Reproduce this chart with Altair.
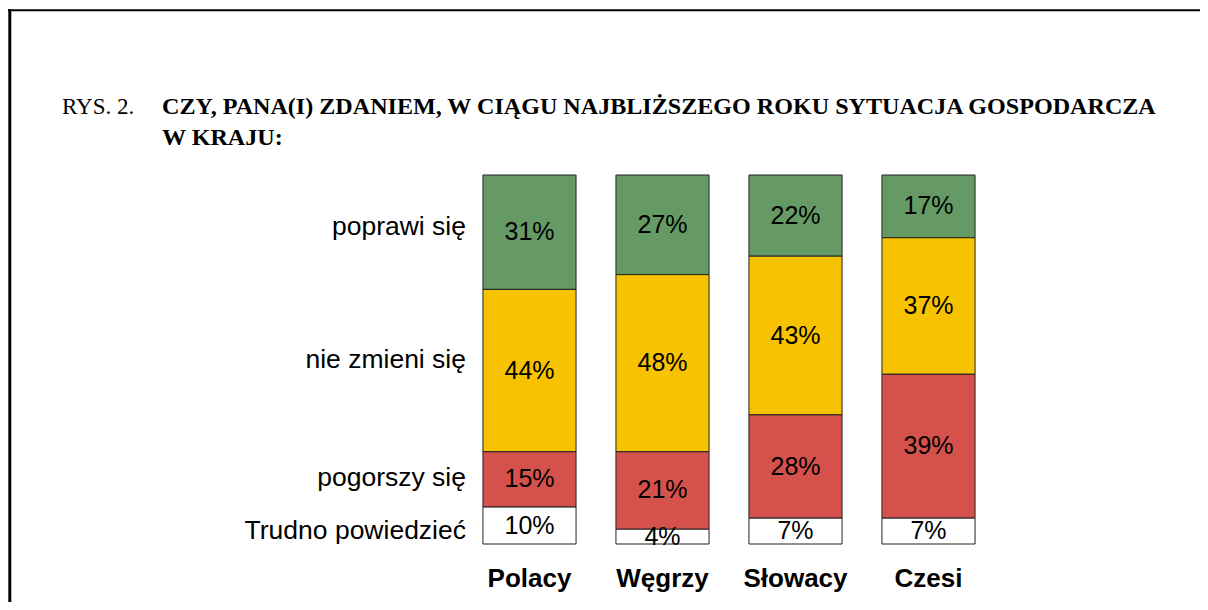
import altair as alt
import pandas as pd

kraje = ["Polacy", "Węgrzy", "Słowacy", "Czesi"]
odpowiedzi = ["poprawi się", "nie zmieni się", "pogorszy się", "Trudno powiedzieć"]
poprawi = [31, 27, 22, 17]
nie_zmieni = [44, 48, 43, 37]
pogorszy = [15, 21, 28, 39]
trudno = [10, 4, 7, 7]

tytul_nr = "RYS. 2."
tytul_1 = "CZY, PANA(I) ZDANIEM, W CIĄGU NAJBLIŻSZEGO ROKU SYTUACJA GOSPODARCZA"
tytul_2 = "W KRAJU:"

kolory = ["#659A64", "#F7C300", "#D4524B", "#FFFFFF"]

serie = [poprawi, nie_zmieni, pogorszy, trudno]
rows = []
for oi, (odp, vals) in enumerate(zip(odpowiedzi, serie)):
    for k, v in zip(kraje, vals):
        rows.append({"kraj": k, "odp": odp, "val": v, "ord": 3 - oi,
                     "lab": f"{v}%"})
df = pd.DataFrame(rows)

W, H = 532, 369
PL, PT = 455, 167

xscale = alt.Scale(domain=kraje, paddingInner=0.3, paddingOuter=0.15)
yscale = alt.Scale(domain=[0, 100])
cscale = alt.Scale(domain=odpowiedzi, range=kolory)

base = alt.Chart(df).transform_stack(
    stack="val", groupby=["kraj"], as_=["y0", "y1"],
    sort=[alt.SortField("ord", order="ascending")]
).transform_calculate(mid="(datum.y0 + datum.y1) / 2")

bars = base.mark_bar(stroke="#222222", strokeWidth=1).encode(
    x=alt.X("kraj:N", scale=xscale, axis=None, sort=kraje),
    y=alt.Y("y0:Q", scale=yscale, axis=None),
    y2="y1:Q",
    color=alt.Color("odp:N", scale=cscale, legend=None),
)

pct = base.mark_text(font="Liberation Sans", fontSize=25, color="#000000",
                     baseline="middle").encode(
    x=alt.X("kraj:N", scale=xscale, axis=None, sort=kraje),
    y=alt.Y("mid:Q", scale=yscale, axis=None),
    text="lab:N",
)

label_dy = {"poprawi się": -5, "nie zmieni się": -11,
            "pogorszy się": -1, "Trudno powiedzieć": 5}
left_layers = []
for odp in odpowiedzi:
    left_layers.append(
        base.transform_filter(
            (alt.datum.kraj == kraje[0]) & (alt.datum.odp == odp)
        ).mark_text(font="Liberation Sans", fontSize=26.5, color="#000000",
                    align="right", baseline="middle", dy=label_dy[odp]).encode(
            x=alt.value(3),
            y=alt.Y("mid:Q", scale=yscale, axis=None),
            text="odp:N",
        )
    )

cats = alt.Chart(pd.DataFrame({"kraj": kraje})).mark_text(
    font="Liberation Sans", fontSize=26, fontWeight="bold", color="#000000",
    baseline="alphabetic").encode(
    x=alt.X("kraj:N", scale=xscale, axis=None, sort=kraje),
    y=alt.value(H + 43),
    text="kraj:N",
)

one = pd.DataFrame({"t": [tytul_nr], "a": [tytul_1], "b": [tytul_2]})
t0 = alt.Chart(one).mark_text(font="Liberation Serif", fontSize=23,
                              align="left", baseline="alphabetic",
                              color="#000000").encode(
    x=alt.value(62 - 8 - PL), y=alt.value(114 - 8 - PT), text="t:N")
t1 = alt.Chart(one).mark_text(font="Liberation Serif", fontSize=24.1,
                              fontWeight="bold", align="left",
                              baseline="alphabetic", color="#000000").encode(
    x=alt.value(162 - 8 - PL), y=alt.value(114 - 8 - PT), text="a:N")
t2 = alt.Chart(one).mark_text(font="Liberation Serif", fontSize=24.1,
                              fontWeight="bold", align="left",
                              baseline="alphabetic", color="#000000").encode(
    x=alt.value(162 - 8 - PL), y=alt.value(145 - 8 - PT), text="b:N")

frame_top = alt.Chart(one).mark_rule(color="#000000", strokeWidth=2).encode(
    x=alt.value(-PL), x2=alt.value(1200 - PL), y=alt.value(10.3 - 8 - PT))
frame_left = alt.Chart(one).mark_rule(color="#000000", strokeWidth=3).encode(
    x=alt.value(9.8 - 8 - PL), y=alt.value(9.3 - 8 - PT),
    y2=alt.value(610 - 8 - PT))

chart = alt.layer(frame_top, frame_left, t0, t1, t2, bars, pct, *left_layers,
                  cats).properties(
    width=W, height=H,
    autosize=alt.AutoSizeParams(type="none"),
    padding={"left": PL, "top": PT, "right": 1192 - PL - W,
             "bottom": 594 - PT - H},
    background="#FFFFFF",
).configure_view(stroke=None)

chart.save("out.html", embed_options={"renderer": "svg", "actions": False})
